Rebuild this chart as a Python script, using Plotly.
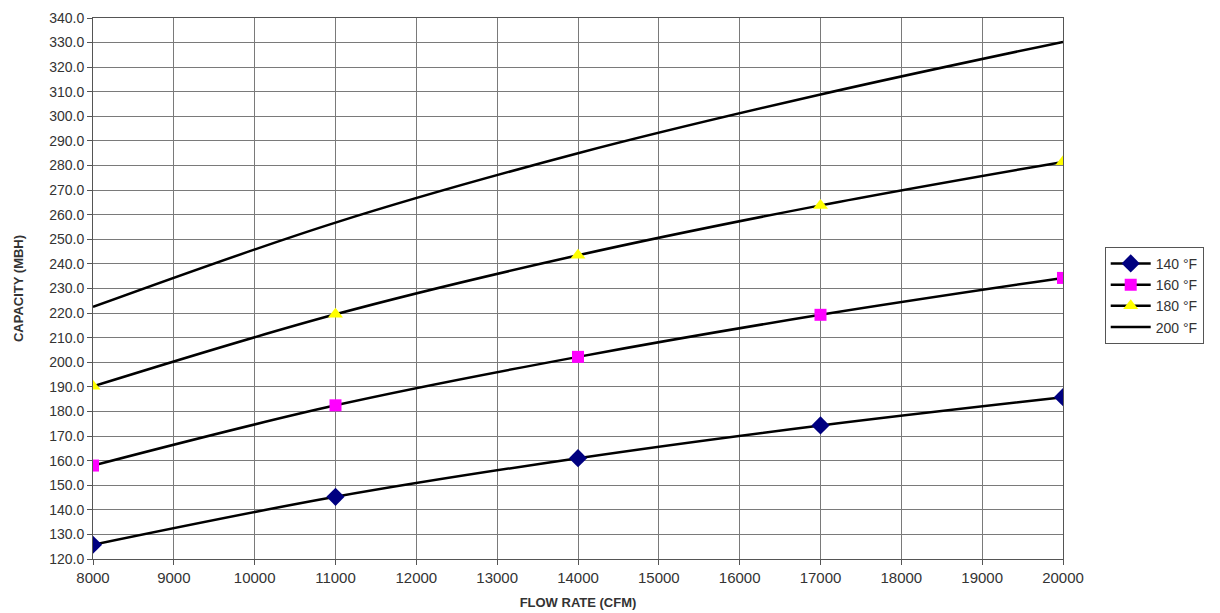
import plotly.graph_objects as go

flow_rate = [8000, 11000, 14000, 17000, 20000]
cap_140 = [125.8, 145.3, 161.0, 174.3, 185.8]
cap_160 = [158.0, 182.5, 202.2, 219.3, 234.3]
cap_180 = [190.2, 219.5, 243.5, 263.8, 281.5]
cap_200 = [222.5, 256.8, 285.0, 308.9, 330.3]

series = [
    ("140 °F", cap_140, dict(symbol="diamond", color="#000080", size=14)),
    ("160 °F", cap_160, dict(symbol="square", color="#FF00FF", size=12)),
    ("180 °F", cap_180, dict(symbol="triangle-up", color="#FFFF00", size=13)),
    ("200 °F", cap_200, None),
]

FONT = "Arial, Liberation Sans, sans-serif"

fig = go.Figure()
for name, vals, mk in series:
    if mk is None:
        fig.add_trace(go.Scatter(x=flow_rate, y=vals, name=name, mode="lines",
                                 line=dict(color="black", width=2.5, shape="spline")))
    else:
        fig.add_trace(go.Scatter(x=flow_rate, y=vals, name=name, mode="lines+markers",
                                 line=dict(color="black", width=2.5, shape="spline"),
                                 marker=dict(symbol=mk["symbol"], color=mk["color"], size=mk["size"],
                                             line=dict(width=0))))

fig.update_layout(
    width=1220, height=613,
    margin=dict(l=85, r=165, t=10, b=62, autoexpand=False),
    paper_bgcolor="white", plot_bgcolor="white",
    font=dict(family=FONT, size=15, color="#333333"),
    showlegend=True,
    legend=dict(x=1.043, y=0.577, xanchor="left", yanchor="top",
                bordercolor="#555555", borderwidth=1, bgcolor="white",
                font=dict(family=FONT, size=14, color="#333333"),
                tracegroupgap=0, itemwidth=40),
)
fig.update_xaxes(
    range=[8000, 20000], dtick=1000, tick0=8000, tickformat="d",
    showgrid=True, gridcolor="#7a7a7a", gridwidth=1,
    showline=True, linecolor="#555555", linewidth=1, mirror=True,
    ticks="outside", ticklen=5, tickcolor="#555555",
    tickfont=dict(family=FONT, size=15, color="#333333"),
    ticklabeloverflow="allow",
    title=dict(text="<b>FLOW RATE (CFM)</b>", font=dict(family=FONT, size=13, color="#333333"), standoff=12),
    zeroline=False, automargin=False,
)
fig.update_yaxes(
    range=[120, 340], dtick=10, tick0=120, tickformat=".1f",
    showgrid=True, gridcolor="#7a7a7a", gridwidth=1,
    showline=True, linecolor="#555555", linewidth=1, mirror=True,
    ticks="outside", ticklen=5, tickcolor="#555555",
    tickfont=dict(family=FONT, size=14, color="#333333"),
    ticklabeloverflow="allow",
    title=dict(text="<b>CAPACITY (MBH)</b>", font=dict(family=FONT, size=13, color="#333333"), standoff=22),
    zeroline=False, automargin=False,
)

fig.write_html("out.html")
